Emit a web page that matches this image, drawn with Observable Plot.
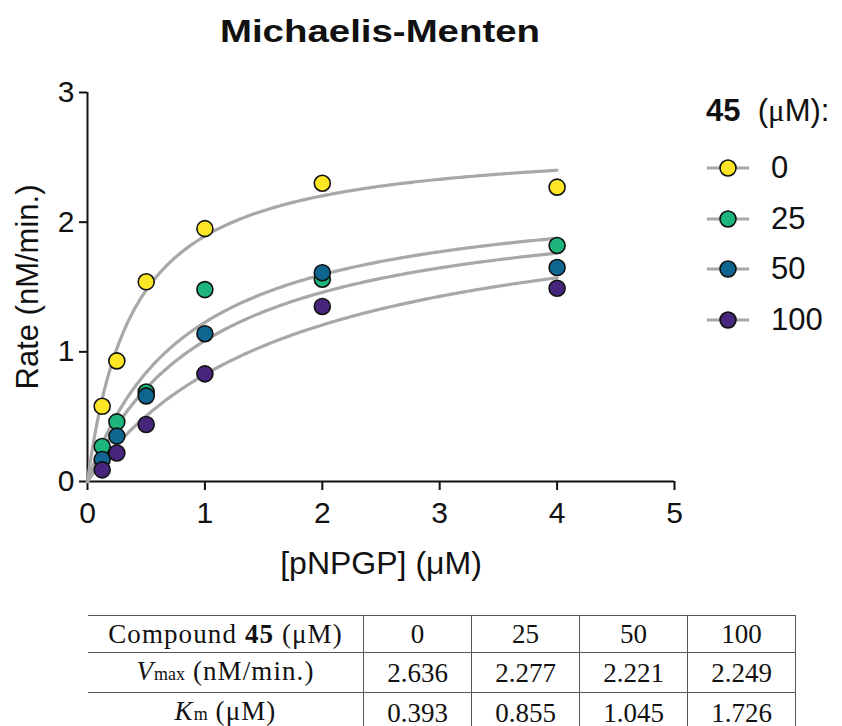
<!DOCTYPE html>
<html>
<head>
<meta charset="utf-8">
<script src="https://cdn.jsdelivr.net/npm/d3@7"></script>
<script src="https://cdn.jsdelivr.net/npm/@observablehq/plot@0.6"></script>
<style>
  html, body { margin: 0; padding: 0; background: #fff; }
  body { width: 842px; height: 726px; position: relative; overflow: hidden; font-family: "Liberation Sans", Arial, sans-serif; color: #111; }
  #title { position: absolute; left: 0; width: 760px; top: 13px; text-align: center; font-weight: bold; font-size: 32px; line-height: 36px; transform: scaleX(1.2); transform-origin: 380px 0; }
  #chart { position: absolute; left: 0; top: 60px; }
  #legend { position: absolute; left: 706px; top: 91px; font-size: 31px; }
  #legend .head { height: 40px; line-height: 40px; white-space: nowrap; }
  #legend .item { height: 50.5px; display: flex; align-items: center; }
  #legend .item svg { margin-right: 21px; }
  #tbl { position: absolute; left: 88px; top: 615px; border-collapse: collapse; font-family: "Liberation Serif", "Times New Roman", serif; font-size: 27px; color: #111; }
  #tbl td { border: 1.5px solid #555; height: 36px; padding: 0; text-align: center; line-height: 36px; width: 107px; }
  #tbl td.first { width: 275px; border-left: none; letter-spacing: 1.1px; }
  #tbl .sm { font-size: 18px; letter-spacing: 0; }
</style>
</head>
<body>
<div id="title">Michaelis-Menten</div>
<div id="chart"></div>
<div id="legend"></div>
<table id="tbl"></table>
<script>
// Compound 45 concentrations (µM)
const conc = ["0", "25", "50", "100"];
// substrate [pNPGP] (µM)
const substrate = [0.125, 0.25, 0.5, 1, 2, 4];
// measured rates (nM/min.) per inhibitor concentration
const rate0   = [0.58, 0.93, 1.54, 1.95, 2.30, 2.27];
const rate25  = [0.27, 0.46, 0.69, 1.48, 1.56, 1.82];
const rate50  = [0.17, 0.35, 0.66, 1.14, 1.61, 1.65];
const rate100 = [0.09, 0.22, 0.44, 0.83, 1.35, 1.49];
// fitted parameters (table)
const vmax = [2.636, 2.277, 2.221, 2.249];
const km   = [0.393, 0.855, 1.045, 1.726];
const colors = ["#FDE725", "#1DB57B", "#0E6690", "#48257C"];

const rates = [rate0, rate25, rate50, rate100];
const points = [];
conc.forEach((c, i) => substrate.forEach((s, j) => points.push({series: c, x: s, y: rates[i][j]})));

// Michaelis-Menten fit curves from the table's Vmax and Km
const curveX = d3.range(0, 4.0001, 0.02);
const curves = [];
conc.forEach((c, i) => curveX.forEach(s => curves.push({series: c, x: s, y: vmax[i] * s / (km[i] + s)})));

const chart = Plot.plot({
  width: 842,
  height: 540,
  marginLeft: 87,
  marginRight: 168,
  marginTop: 32,
  marginBottom: 119,
  x: {domain: [0, 5]},
  y: {domain: [0, 3]},
  color: {domain: conc, range: colors},
  style: {fontFamily: "'Liberation Sans', Arial, sans-serif", fontSize: "30px", color: "#111", background: "white", overflow: "visible"},
  marks: [
    Plot.axisX({ticks: [0, 1, 2, 3, 4, 5], tickSize: 9, tickPadding: 11, tickFormat: d => String(d), strokeWidth: 2,
      label: null}),
    Plot.axisX({ticks: [], label: "[pNPGP] (μM)", labelAnchor: "center", labelOffset: 92, labelArrow: "none", fontSize: 32}),
    Plot.axisY({ticks: [0, 1, 2, 3], tickSize: 8, tickPadding: 5, tickFormat: d => String(d), strokeWidth: 2,
      label: null}),
    Plot.axisY({ticks: [], label: "Rate (nM/min.)", labelAnchor: "center", labelOffset: 72, labelArrow: "none", fontSize: 31}),
    Plot.ruleX([0], {stroke: "#111", strokeWidth: 2}),
    Plot.ruleY([0], {stroke: "#111", strokeWidth: 2}),
    Plot.line(curves, {x: "x", y: "y", z: "series", stroke: "#a8a8a8", strokeWidth: 3.2, curve: "linear"}),
    Plot.dot(points, {x: "x", y: "y", fill: "series", stroke: "#111", strokeWidth: 1.6, r: 8})
  ]
});
document.getElementById("chart").appendChild(chart);

// legend
const legend = document.getElementById("legend");
const head = document.createElement("div");
head.className = "head";
head.innerHTML = '<b>45</b>&nbsp; (<span style="font-family:\'Liberation Serif\',serif">μ</span>M):';
legend.appendChild(head);
const spacer = document.createElement("div");
spacer.style.height = "12px";
legend.appendChild(spacer);
conc.forEach((c, i) => {
  const it = document.createElement("div");
  it.className = "item";
  it.innerHTML = `<svg width="44" height="20"><line x1="1" x2="43" y1="10" y2="10" stroke="#a8a8a8" stroke-width="3.2"/><circle cx="22" cy="10" r="8" fill="${colors[i]}" stroke="#111" stroke-width="1.6"/></svg><span>${c}</span>`;
  legend.appendChild(it);
});

// table
const tbl = document.getElementById("tbl");
const rowHead = ['Compound <b>45</b> (μM)', ...conc];
const rowV = ['<i>V</i><span class="sm">max</span> (nM/min.)', ...vmax.map(v => v.toFixed(3))];
const rowK = ['<i>K</i><span class="sm">m</span> (μM)', ...km.map(v => v.toFixed(3))];
[rowHead, rowV, rowK].forEach(r => {
  const tr = document.createElement("tr");
  r.forEach((cell, j) => {
    const td = document.createElement("td");
    if (j === 0) td.className = "first";
    td.innerHTML = cell;
    tr.appendChild(td);
  });
  tbl.appendChild(tr);
});
</script>
</body>
</html>
